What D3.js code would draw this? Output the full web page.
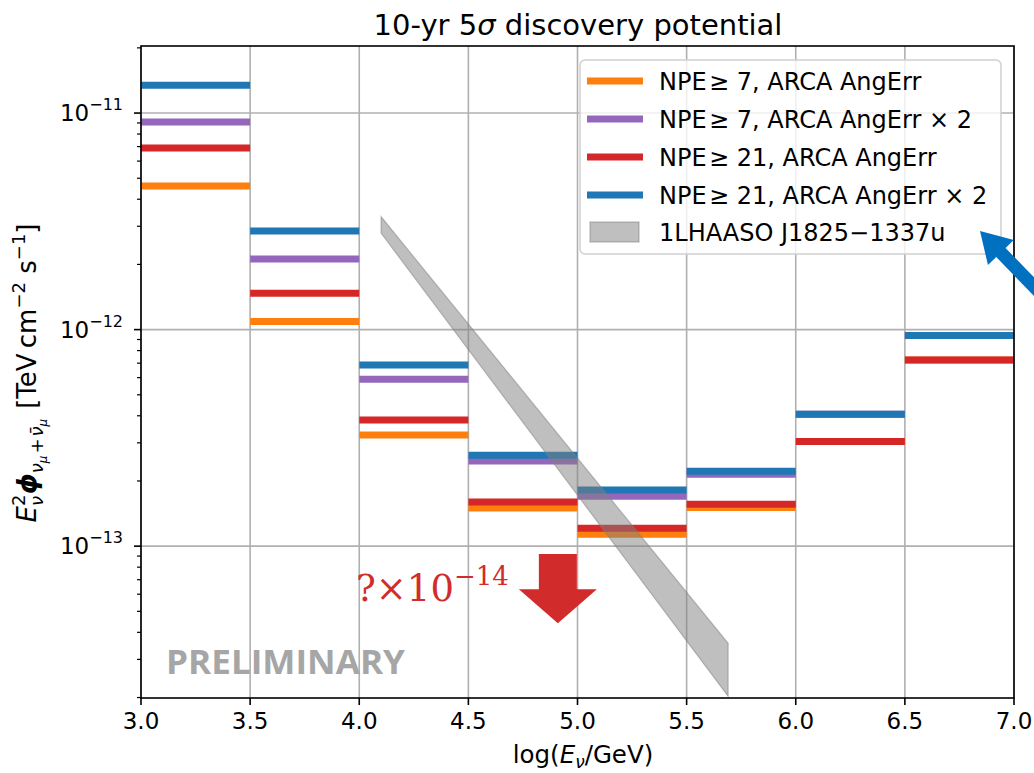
<!DOCTYPE html>
<html>
<head>
<meta charset="utf-8">
<script src="https://cdn.jsdelivr.net/npm/d3@7"></script>
<style>
  html, body { margin: 0; padding: 0; background: #fff; }
  svg { display: block; font-family: "DejaVu Sans", sans-serif; }
</style>
</head>
<body>
<svg id="chart" width="1034" height="773"></svg>
<script>
// Energy bins in log10(E/GeV)
const binEdges = [3.0, 3.5, 4.0, 4.5, 5.0, 5.5, 6.0, 6.5, 7.0];

// 10-yr 5σ discovery flux per bin [TeV cm^-2 s^-1]
const npe7 = [4.6e-12, 1.09e-12, 3.26e-13, 1.5e-13, 1.135e-13, 1.51e-13, 3.04e-13, 7.23e-13];
const npe7x2 = [9.09e-12, 2.12e-12, 5.9e-13, 2.47e-13, 1.70e-13, 2.15e-13, 4.07e-13, 9.4e-13];
const npe21 = [6.89e-12, 1.47e-12, 3.82e-13, 1.6e-13, 1.21e-13, 1.56e-13, 3.04e-13, 7.23e-13];
const npe21x2 = [1.345e-11, 2.85e-12, 6.86e-13, 2.63e-13, 1.815e-13, 2.22e-13, 4.07e-13, 9.4e-13];

const seriesNames = [
  "NPE\u200a≥ 7, ARCA AngErr",
  "NPE\u200a≥ 7, ARCA AngErr × 2",
  "NPE\u200a≥ 21, ARCA AngErr",
  "NPE\u200a≥ 21, ARCA AngErr × 2"
];
const seriesColors = ["#ff7f0e", "#9467bd", "#d62728", "#1f77b4"];

// 1LHAASO J1825−1337u band (power-law envelope)
const bandX = [4.1, 5.69];
const bandUpper = [3.32e-12, 3.56e-14];
const bandLower = [2.79e-12, 2.03e-14];
const bandName = "1LHAASO J1825−1337u";

// Axis ticks
const xTicks = [3.0, 3.5, 4.0, 4.5, 5.0, 5.5, 6.0, 6.5, 7.0];
const yMajorTicks = [1e-11, 1e-12, 1e-13];
const yTickExp = ["−11", "−12", "−13"];

// Upper-limit marker
const ulX = 4.91;
const ulTop = 9.2e-14;
const ulHead = 6.33e-14;
const ulTip = 4.41e-14;

const svg = d3.select("#chart");
const margin = { left: 141, right: 1014, top: 46, bottom: 698 };

const x = d3.scaleLinear().domain([3, 7]).range([margin.left, margin.right]);
const y = d3.scaleLog().domain([1.99e-14, 2.04e-11]).range([margin.bottom, margin.top]);

// clip for data
svg.append("defs").append("clipPath").attr("id", "plotclip")
  .append("rect")
  .attr("x", margin.left).attr("y", margin.top)
  .attr("width", margin.right - margin.left).attr("height", margin.bottom - margin.top);

// grid
const grid = svg.append("g");
grid.selectAll("line.vx").data(xTicks).join("line")
  .attr("x1", d => x(d)).attr("x2", d => x(d))
  .attr("y1", margin.top).attr("y2", margin.bottom)
  .attr("stroke", "#b0b0b0").attr("stroke-width", 1.6);
grid.selectAll("line.hy").data(yMajorTicks).join("line")
  .attr("x1", margin.left).attr("x2", margin.right)
  .attr("y1", d => y(d)).attr("y2", d => y(d))
  .attr("stroke", "#b0b0b0").attr("stroke-width", 1.6);

const plot = svg.append("g").attr("clip-path", "url(#plotclip)");

// step segments for each series
const allSeries = [npe7, npe7x2, npe21, npe21x2];
allSeries.forEach((vals, si) => {
  plot.append("g").selectAll("line").data(vals).join("line")
    .attr("x1", (d, i) => x(binEdges[i]))
    .attr("x2", (d, i) => x(binEdges[i + 1]))
    .attr("y1", d => y(d)).attr("y2", d => y(d))
    .attr("stroke", seriesColors[si])
    .attr("stroke-width", 7);
});

// LHAASO band
const bandData = bandX.map((bx, i) => ({ x: bx, lo: bandLower[i], hi: bandUpper[i] }));
plot.append("path")
  .datum(bandData)
  .attr("d", d3.area().x(d => x(d.x)).y0(d => y(d.lo)).y1(d => y(d.hi)))
  .attr("fill", "#808080").attr("fill-opacity", 0.5)
  .attr("stroke", "#808080").attr("stroke-opacity", 0.5).attr("stroke-width", 1.2);

// axes frame
const frame = svg.append("g");
frame.append("rect")
  .attr("x", margin.left).attr("y", margin.top)
  .attr("width", margin.right - margin.left).attr("height", margin.bottom - margin.top)
  .attr("fill", "none").attr("stroke", "#000").attr("stroke-width", 1.6);

// x ticks
frame.selectAll("line.xt").data(xTicks).join("line")
  .attr("x1", d => x(d)).attr("x2", d => x(d))
  .attr("y1", margin.bottom).attr("y2", margin.bottom + 7)
  .attr("stroke", "#000").attr("stroke-width", 1.6);
frame.selectAll("text.xt").data(xTicks).join("text")
  .attr("x", d => x(d)).attr("y", 729)
  .attr("text-anchor", "middle").attr("font-size", 23)
  .text(d => d.toFixed(1));

// y ticks: major and minor
const minor = [];
[-14, -13, -12, -11].forEach(e => {
  for (let m = 2; m <= 9; m++) {
    const v = m * Math.pow(10, e);
    if (v >= y.domain()[0] && v <= y.domain()[1]) minor.push(v);
  }
});
frame.selectAll("line.ymin").data(minor).join("line")
  .attr("x1", margin.left - 4).attr("x2", margin.left)
  .attr("y1", d => y(d)).attr("y2", d => y(d))
  .attr("stroke", "#000").attr("stroke-width", 1.2);
frame.selectAll("line.ymaj").data(yMajorTicks).join("line")
  .attr("x1", margin.left - 7).attr("x2", margin.left)
  .attr("y1", d => y(d)).attr("y2", d => y(d))
  .attr("stroke", "#000").attr("stroke-width", 1.6);
const ylab = frame.selectAll("text.yt").data(yMajorTicks).join("text")
  .attr("x", 123).attr("y", d => y(d) + 8)
  .attr("text-anchor", "end").attr("font-size", 23);
ylab.append("tspan").text("10");
ylab.append("tspan").attr("font-size", 16).attr("dy", -11).text((d, i) => yTickExp[i]);

// title
const title = svg.append("text").attr("x", 578).attr("y", 35)
  .attr("text-anchor", "middle").attr("font-size", 29);
title.append("tspan").text("10-yr 5");
title.append("tspan").attr("font-style", "italic").text("σ");
title.append("tspan").text(" discovery potential");

// helper: lay out rich text pieces sequentially in a group
function richText(g, pieces, anchorMiddle) {
  let cx = 0;
  pieces.forEach(p => {
    const t = g.append("text")
      .attr("x", cx + (p.dx || 0)).attr("y", p.dy || 0)
      .attr("font-size", p.size)
      .attr("font-style", p.italic ? "italic" : "normal")
      .attr("font-weight", p.bold ? "bold" : "normal")
      .text(p.t);
    const w = t.node().getComputedTextLength();
    if (!p.stack) cx += w + (p.dx || 0);
  });
  if (anchorMiddle) g.selectAll("text").attr("transform", `translate(${-cx / 2},0)`);
  return cx;
}

// x label
const xl = svg.append("g").attr("transform", "translate(583,763)");
richText(xl, [
  { t: "log(", size: 24.5 },
  { t: "E", size: 24.5, italic: true },
  { t: "ν", size: 17, italic: true, dy: 5 },
  { t: "/GeV)", size: 24.5 }
], true);

// y label
const yl = svg.append("g").attr("transform", "translate(36,373) rotate(-90)");
richText(yl, [
  { t: "E", size: 26, italic: true },
  { t: "2", size: 18, dy: -11, stack: true },
  { t: "ν", size: 18, italic: true, dy: 7 },
  { t: "ϕ", size: 26, italic: true, bold: true, dx: 2 },
  { t: "ν", size: 18, italic: true, dy: 7 },
  { t: "μ", size: 12, italic: true, dy: 11 },
  { t: "+", size: 18, dy: 7, dx: 2 },
  { t: "ν̄", size: 18, italic: true, dy: 7, dx: 2 },
  { t: "μ", size: 12, italic: true, dy: 11 },
  { t: "[TeV\u2009cm", size: 26, dx: 10 },
  { t: "−2", size: 18, dy: -11 },
  { t: "\u00a0s", size: 26 },
  { t: "−1", size: 18, dy: -11 },
  { t: "]", size: 26 }
], true);

// legend
const lg = svg.append("g");
lg.append("rect").attr("x", 580).attr("y", 60).attr("width", 421).attr("height", 194)
  .attr("rx", 5).attr("fill", "#fff").attr("fill-opacity", 0.8)
  .attr("stroke", "#d0d0d0").attr("stroke-width", 1.5);
const legendRows = seriesNames.map((n, i) => ({ name: n, color: seriesColors[i] }));
legendRows.forEach((r, i) => {
  const yy = 81 + i * 38;
  lg.append("line").attr("x1", 587).attr("x2", 643).attr("y1", yy).attr("y2", yy)
    .attr("stroke", r.color).attr("stroke-width", 7);
  lg.append("text").attr("x", 659).attr("y", yy + 8.5).attr("font-size", 24).text(r.name);
});
lg.append("rect").attr("x", 590).attr("y", 222).attr("width", 49).attr("height", 20)
  .attr("fill", "#808080").attr("fill-opacity", 0.5)
  .attr("stroke", "#808080").attr("stroke-opacity", 0.5).attr("stroke-width", 1.2);
lg.append("text").attr("x", 659).attr("y", 240.5).attr("font-size", 24).text(bandName);

// PRELIMINARY watermark
svg.append("text").attr("x", 166).attr("y", 674)
  .style("font-family", "'Open Sans', 'Liberation Sans', sans-serif")
  .style("font-weight", "700").attr("font-size", 34)
  .attr("fill", "#a6a6a6")
  .attr("textLength", 239).attr("lengthAdjust", "spacingAndGlyphs")
  .text("PRELIMINARY");

// upper-limit arrow and label
const ax = x(ulX);
const shaftHalf = 19, headHalf = 39;
svg.append("path")
  .attr("d", `M${ax - shaftHalf},${y(ulTop)} L${ax + shaftHalf},${y(ulTop)} L${ax + shaftHalf},${y(ulHead)}
              L${ax + headHalf},${y(ulHead)} L${ax},${y(ulTip)} L${ax - headHalf},${y(ulHead)}
              L${ax - shaftHalf},${y(ulHead)} Z`)
  .attr("fill", "#d22b2b");
const ult = svg.append("text").attr("x", 356).attr("y", 601)
  .style("font-family", "'DejaVu Serif', 'Liberation Serif', serif")
  .attr("font-size", 37).attr("fill", "#d22b2b");
ult.append("tspan").text("?×10");
ult.append("tspan").attr("font-size", 26).attr("dy", -16).text("−14");

// pointer arrow toward the LHAASO legend entry
const tip = [980, 231], tail = [1045, 298];
const ang = Math.atan2(tail[1] - tip[1], tail[0] - tip[0]);
const headLen = 30, headW = 18, sw = 6.5;
const ux = Math.cos(ang), uy = Math.sin(ang), px = -uy, py = ux;
const hb = [tip[0] + ux * headLen, tip[1] + uy * headLen];
const pts = [
  tip,
  [hb[0] + px * headW, hb[1] + py * headW],
  [hb[0] + px * sw, hb[1] + py * sw],
  [tail[0] + px * sw, tail[1] + py * sw],
  [tail[0] - px * sw, tail[1] - py * sw],
  [hb[0] - px * sw, hb[1] - py * sw],
  [hb[0] - px * headW, hb[1] - py * headW]
];
svg.append("path").attr("d", d3.line()(pts) + "Z").attr("fill", "#0070c0");
</script>
</body>
</html>
